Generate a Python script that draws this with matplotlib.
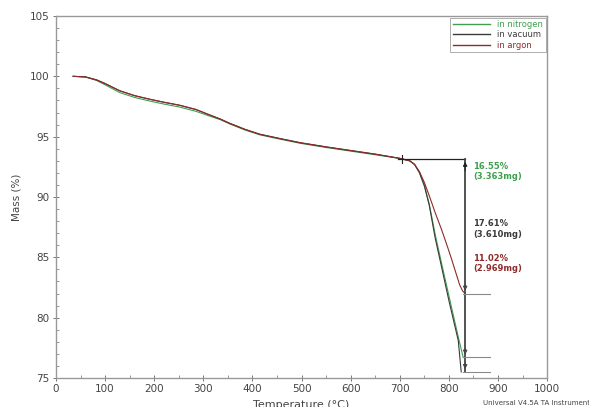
import matplotlib
matplotlib.use('Agg')
import matplotlib.pyplot as plt
from matplotlib.ticker import MultipleLocator

# Shared part of the TGA curves (vacuum / argon overlap up to ~720 C)
temp_common = [35, 60, 83, 100, 130, 160, 191, 220, 252, 285, 313, 335, 354, 385, 415, 455, 497, 550, 600, 650, 700, 720]
mass_common = [100.0, 99.95, 99.7, 99.4, 98.8, 98.4, 98.1, 97.85, 97.6, 97.25, 96.8, 96.45, 96.1, 95.6, 95.2, 94.85, 94.5, 94.15, 93.85, 93.55, 93.2, 93.0]
# nitrogen runs a touch lower in the early part
mass_common_n = [100.0, 99.95, 99.65, 99.3, 98.65, 98.25, 97.95, 97.7, 97.45, 97.1, 96.7, 96.4, 96.05, 95.55, 95.15, 94.8, 94.45, 94.1, 93.8, 93.5, 93.2, 93.0]

# Decomposition step for each atmosphere
temp_nitrogen = [730, 740, 750, 760, 772, 785, 800, 819, 829]
mass_nitrogen = [92.7, 92.05, 91.0, 89.4, 86.9, 84.5, 81.8, 78.4, 76.7]
temp_vacuum = [730, 740, 750, 760, 772, 785, 800, 819, 825]
mass_vacuum = [92.7, 92.0, 90.9, 89.3, 86.6, 84.2, 81.4, 78.1, 75.5]
temp_argon = [730, 740, 750, 760, 772, 785, 796, 805, 815, 822, 828, 833]
mass_argon = [92.7, 92.1, 91.2, 90.1, 88.7, 87.3, 86.0, 84.9, 83.6, 82.7, 82.2, 82.0]

step_start = 93.15
step_t0, step_t1, step_tend = 697, 833, 884
labels = ['in nitrogen', 'in vacuum', 'in argon']
colors = ['#3f9f4f', '#3a3a3a', '#8e2b2b']
loss_text = ['16.55%\n(3.363mg)', '17.61%\n(3.610mg)', '11.02%\n(2.969mg)']
text_y = [92.1, 87.35, 84.5]

fig = plt.figure(figsize=(5.89, 4.07), dpi=100)
ax = fig.add_axes([0.095, 0.0713, 0.834, 0.8894])

series = [(mass_common_n, temp_nitrogen, mass_nitrogen),
          (mass_common, temp_vacuum, mass_vacuum),
          (mass_common, temp_argon, mass_argon)]
for (m0, t, m), lab, c in zip(series, labels, colors):
    ax.plot(temp_common + t, m0 + m, color=c, lw=0.8, label=lab)

# step analysis marks
ends = [mass_nitrogen[-1], mass_vacuum[-1], mass_argon[-1]]
ax.plot([step_t0, step_t1], [step_start, step_start], color='#222222', lw=0.9)
ax.plot([step_t0 + 8, step_t0 + 8], [step_start - 0.35, step_start + 0.35], color='#222222', lw=0.8)
ax.plot([step_t1, step_t1], [step_start, min(ends)], color='#444444', lw=1.3)
ax.annotate('', xy=(step_t1, step_start), xytext=(step_t1, step_start - 1.2),
            arrowprops=dict(arrowstyle='-|>', color='#222222', lw=0.8, mutation_scale=6))
for e in ends:
    ax.plot([step_t1 - 5, step_tend], [e, e], color='#8a8a8a', lw=0.8)
    ax.annotate('', xy=(step_t1, e), xytext=(step_t1, e + 1.0),
                arrowprops=dict(arrowstyle='-|>', color='#444444', lw=0.8, mutation_scale=6))

for txt, yy, c in zip(loss_text, text_y, colors):
    ax.text(step_t1 + 16, yy, txt, color=c, fontsize=6, fontweight='bold', va='center', linespacing=1.2)

ax.set_xlim(0, 1000)
ax.set_ylim(75, 105)
ax.xaxis.set_major_locator(MultipleLocator(100))
ax.xaxis.set_minor_locator(MultipleLocator(50))
ax.yaxis.set_major_locator(MultipleLocator(5))
ax.yaxis.set_minor_locator(MultipleLocator(1))
ax.tick_params(which='major', direction='inout', length=5, width=0.7, color='#777777', labelsize=7.5, labelcolor='#444444', pad=2)
ax.tick_params(which='minor', direction='in', length=2.5, width=0.6, color='#888888')
for s in ax.spines.values():
    s.set_color('#999999')
    s.set_linewidth(1.0)

ax.set_ylabel('Mass (%)', fontsize=7.5, color='#444444', labelpad=6)
ax.set_xlabel('Temperature (\u00b0C)', fontsize=8, color='#444444', labelpad=4)

leg = ax.legend(loc='upper right', fontsize=6, frameon=True, fancybox=False, handlelength=4.5,
                borderpad=0.3, labelspacing=0.15, borderaxespad=0.2)
leg.get_frame().set_edgecolor('#999999')
leg.get_frame().set_linewidth(0.7)
for t, c in zip(leg.get_texts(), colors):
    t.set_color(c)
for l in leg.get_lines():
    l.set_linewidth(1.0)

fig.text(0.82, 0.005, 'Universal V4.5A TA Instruments', fontsize=5, color='#444444')

fig.savefig('out.png', dpi=100)
